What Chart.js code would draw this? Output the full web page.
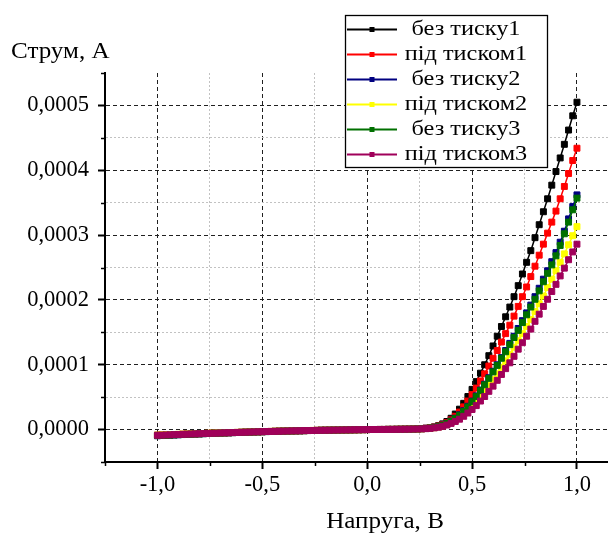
<!DOCTYPE html>
<html><head><meta charset="utf-8">
<script src="https://cdn.jsdelivr.net/npm/chart.js@4"></script>
<style>html,body{margin:0;padding:0;background:#fff;overflow:hidden}#wrap{width:608px;height:533px;position:relative}</style>
</head><body><div id="wrap"><canvas id="c" width="608" height="533"></canvas></div>
<script>
// ---- data (current in microamps, voltage in volts) ----
const voltage = [
-1.00,-0.98,-0.96,-0.94,-0.92,-0.90,-0.88,-0.86,-0.84,-0.82,
-0.80,-0.78,-0.76,-0.74,-0.72,-0.70,-0.68,-0.66,-0.64,-0.62,
-0.60,-0.58,-0.56,-0.54,-0.52,-0.50,-0.48,-0.46,-0.44,-0.42,
-0.40,-0.38,-0.36,-0.34,-0.32,-0.30,-0.28,-0.26,-0.24,-0.22,
-0.20,-0.18,-0.16,-0.14,-0.12,-0.10,-0.08,-0.06,-0.04,-0.02,
0.00,
0.02,0.04,0.06,0.08,0.10,0.12,0.14,0.16,0.18,0.20,
0.22,0.24,0.26,0.28,0.30,0.32,0.34,0.36,0.38,0.40,
0.42,0.44,0.46,0.48,0.50,0.52,0.54,0.56,0.58,0.60,
0.62,0.64,0.66,0.68,0.70,0.72,0.74,0.76,0.78,0.80,
0.82,0.84,0.86,0.88,0.90,0.92,0.94,0.96,0.98,1.00];

const bezTysku1 = [
-8.8,-8.5,-8.3,-8.0,-7.8,-7.5,-7.3,-7.0,-6.8,-6.6,
-6.3,-6.1,-5.9,-5.6,-5.4,-5.2,-5.0,-4.8,-4.6,-4.4,
-4.2,-4.0,-3.8,-3.6,-3.4,-3.2,-3.0,-2.9,-2.7,-2.5,
-2.4,-2.2,-2.1,-1.9,-1.8,-1.6,-1.5,-1.4,-1.2,-1.1,
-1.0,-0.9,-0.8,-0.7,-0.6,-0.5,-0.4,-0.3,-0.2,-0.1,
0,
0.1,0.1,0.2,0.2,0.3,0.3,0.4,0.5,0.6,0.7,
0.9,1.2,1.6,2.2,3.0,4.2,6.0,8.8,12.5,17.5,
24,31.5,40.5,51,62,74,87,100,114,129,
144,159,174,189,205,222,240,258,276,296,
316,336,356,377,398,419,440,462,484,505];

const pidTyskom1 = [
-8.7,-8.5,-8.2,-8.0,-7.7,-7.5,-7.2,-7.0,-6.8,-6.5,
-6.3,-6.1,-5.8,-5.6,-5.4,-5.2,-5.0,-4.8,-4.6,-4.4,
-4.2,-4.0,-3.8,-3.6,-3.4,-3.2,-3.0,-2.8,-2.7,-2.5,
-2.3,-2.2,-2.0,-1.9,-1.7,-1.6,-1.5,-1.3,-1.2,-1.1,
-1.0,-0.9,-0.8,-0.7,-0.6,-0.5,-0.4,-0.3,-0.2,-0.1,
0,
0.1,0.1,0.2,0.2,0.3,0.3,0.4,0.5,0.6,0.7,
0.9,1.1,1.5,2.0,2.7,3.7,5.3,7.6,10.8,15,
20.5,27,35,44,54,64,75,86,98,110,
122,135,148,161,175,190,205,220,236,252,
269,286,303,320,337,356,375,395,415,434];

const bezTysku2 = [
-9.5,-9.2,-8.9,-8.6,-8.3,-8.0,-7.7,-7.4,-7.2,-6.9,
-6.6,-6.4,-6.1,-5.9,-5.6,-5.4,-5.2,-5.0,-4.7,-4.5,
-4.3,-4.1,-3.9,-3.7,-3.5,-3.3,-3.1,-2.9,-2.8,-2.6,
-2.4,-2.3,-2.1,-2.0,-1.8,-1.7,-1.5,-1.4,-1.3,-1.1,
-1.0,-0.9,-0.8,-0.7,-0.6,-0.5,-0.4,-0.3,-0.2,-0.1,
0,
0.1,0.1,0.2,0.2,0.3,0.3,0.4,0.5,0.6,0.7,
0.8,1.0,1.3,1.8,2.4,3.3,4.7,6.8,9.6,13.2,
17.6,22.8,29,36,44,52,61,70,80,90,
100,111,122,133,144,156,168,180,192,205,
218,232,245,259,273,289,306,325,344,362];

const pidTyskom2 = [
-8.6,-8.3,-8.1,-7.8,-7.6,-7.3,-7.1,-6.9,-6.6,-6.4,
-6.2,-6.0,-5.8,-5.5,-5.3,-5.1,-4.9,-4.7,-4.5,-4.3,
-4.1,-3.9,-3.7,-3.5,-3.3,-3.1,-3.0,-2.8,-2.6,-2.5,
-2.3,-2.1,-2.0,-1.8,-1.7,-1.6,-1.4,-1.3,-1.2,-1.1,
-1.0,-0.9,-0.8,-0.7,-0.6,-0.5,-0.4,-0.3,-0.2,-0.1,
0,
0.1,0.1,0.2,0.2,0.3,0.3,0.4,0.5,0.6,0.7,
0.8,0.9,1.2,1.6,2.1,2.9,4.0,5.8,8.2,11.2,
14.8,19,24,30,36,43,51,59,68,77,
86,96,106,116,127,137,148,159,170,182,
194,206,219,232,245,258,271,285,299,313];

const bezTysku3 = [
-9.3,-9.0,-8.8,-8.5,-8.2,-7.9,-7.6,-7.4,-7.1,-6.8,
-6.6,-6.3,-6.1,-5.8,-5.6,-5.4,-5.1,-4.9,-4.7,-4.5,
-4.3,-4.1,-3.9,-3.7,-3.5,-3.3,-3.1,-2.9,-2.7,-2.6,
-2.4,-2.2,-2.1,-1.9,-1.8,-1.7,-1.5,-1.4,-1.3,-1.1,
-1.0,-0.9,-0.8,-0.7,-0.6,-0.5,-0.4,-0.3,-0.2,-0.1,
0,
0.1,0.1,0.2,0.2,0.3,0.3,0.4,0.5,0.6,0.7,
0.8,1.0,1.3,1.7,2.3,3.2,4.5,6.5,9.2,12.7,
17,22,28,35,43,51,60,69,79,89,
99,110,120,131,142,153,165,177,189,201,
214,228,241,254,268,284,302,320,339,357];

const pidTyskom3 = [
-8.8,-8.6,-8.3,-8.1,-7.8,-7.6,-7.3,-7.1,-6.8,-6.6,
-6.4,-6.1,-5.9,-5.7,-5.5,-5.2,-5.0,-4.8,-4.6,-4.4,
-4.2,-4.0,-3.8,-3.6,-3.4,-3.2,-3.0,-2.9,-2.7,-2.5,
-2.4,-2.2,-2.0,-1.9,-1.8,-1.6,-1.5,-1.4,-1.2,-1.1,
-1.0,-0.9,-0.8,-0.7,-0.6,-0.5,-0.4,-0.3,-0.2,-0.1,
0,
0.1,0.1,0.2,0.2,0.3,0.3,0.4,0.5,0.6,0.7,
0.8,0.9,1.1,1.4,1.9,2.6,3.6,5.0,7.0,9.5,
12.5,16,20.5,25.5,31,37,44,51,59,67,
76,85,94,103,113,124,134,144,155,167,
178,190,201,213,224,237,249,262,274,286];

const seriesNames = ['без тиску1','під тиском1','без тиску2','під тиском2','без тиску3','під тиском3'];
const seriesData = [bezTysku1, pidTyskom1, bezTysku2, pidTyskom2, bezTysku3, pidTyskom3];
const seriesColors = ['#000000','#ff0000','#000080','#ffff00','#007000','#a0005a'];
const seriesOrder = [5, 4, 3, 2, 1, 0]; // purple drawn on top

const xMajorTicks = [-1.0, -0.5, 0.0, 0.5, 1.0];
const xTickLabels = ['-1,0', '-0,5', '0,0', '0,5', '1,0'];
const xMinorTicks = [-1.25, -0.75, -0.25, 0.25, 0.75];
const yMajorTicks = [0, 0.0001, 0.0002, 0.0003, 0.0004, 0.0005];
const yTickLabels = ['0,0000', '0,0001', '0,0002', '0,0003', '0,0004', '0,0005'];
const yMinorTicks = [-0.00005, 0.00005, 0.00015, 0.00025, 0.00035, 0.00045, 0.00055];
const xTitle = 'Напруга, В';
const yTitle = 'Струм, А';
const X_MIN = -1.25, X_MAX = 1.148, Y_MIN = -0.00005, Y_MAX = 0.00055;
const MICRO = 1e-6;

// ---- helpers ----
const near = (a, b, eps) => Math.abs(a - b) < eps;
const majorIdx = (v, arr, eps) => arr.findIndex(m => near(v, m, eps));
const FONT = '"Liberation Serif", "Times New Roman", serif';

Chart.defaults.font.family = FONT;
Chart.defaults.font.size = 22;
Chart.defaults.color = '#000';

function wideText(ctx, text, x, y, sx) {
  ctx.save(); ctx.translate(x, y); ctx.scale(sx, 1); ctx.fillText(text, 0, 0); ctx.restore();
}

const decor = {
  id: 'decor',
  afterDraw(chart) {
    const ctx = chart.ctx, a = chart.chartArea;
    const xs = chart.scales.x, ys = chart.scales.y;
    ctx.save();
    // minor ticks (short)
    ctx.strokeStyle = '#000'; ctx.lineWidth = 1.5; ctx.setLineDash([]);
    xMinorTicks.forEach(v => { const px = Math.round(xs.getPixelForValue(v)) + 0.5; ctx.beginPath(); ctx.moveTo(px, a.bottom); ctx.lineTo(px, a.bottom + 4); ctx.stroke(); });
    yMinorTicks.forEach(v => { const py = Math.round(ys.getPixelForValue(v)) + 0.5; ctx.beginPath(); ctx.moveTo(a.left, py); ctx.lineTo(a.left - 4, py); ctx.stroke(); });
    // axis titles
    ctx.fillStyle = '#000';
    ctx.font = '23px ' + FONT;
    ctx.textAlign = 'left'; ctx.textBaseline = 'alphabetic';
    wideText(ctx, yTitle, 11, 58, 1.09);
    ctx.textAlign = 'center';
    wideText(ctx, xTitle, 385, 528, 1.09);
    // legend
    const bx = 345.5, by = 15.5, bw = 202, bh = 152;
    ctx.fillStyle = '#fff'; ctx.fillRect(bx, by, bw, bh);
    ctx.strokeStyle = '#000'; ctx.lineWidth = 1.3; ctx.strokeRect(bx, by, bw, bh);
    ctx.font = '21.5px ' + FONT;
    ctx.textAlign = 'center'; ctx.textBaseline = 'alphabetic';
    chart.data.datasets.forEach((ds, i) => {
      const base = 34.5 + i * 25;
      const cy = base - 5;
      ctx.strokeStyle = ds.borderColor; ctx.lineWidth = 2;
      ctx.beginPath(); ctx.moveTo(347, cy); ctx.lineTo(397, cy); ctx.stroke();
      ctx.fillStyle = ds.borderColor; ctx.fillRect(369.5, cy - 2.5, 5, 5);
      ctx.fillStyle = '#000';
      wideText(ctx, ds.label, 466, base, 1.13);
    });
    ctx.restore();
  }
};

const datasets = seriesData.map((arr, k) => ({
  label: seriesNames[k],
  data: voltage.map((v, i) => ({ x: v, y: arr[i] * MICRO })),
  borderColor: seriesColors[k],
  backgroundColor: seriesColors[k],
  pointBackgroundColor: seriesColors[k],
  pointBorderColor: seriesColors[k],
  borderWidth: 1.5,
  pointStyle: 'rect',
  pointRadius: 4.2,
  pointBorderWidth: 1,
  showLine: true,
  tension: 0,
  order: seriesOrder[k]
}));

new Chart(document.getElementById('c'), {
  type: 'scatter',
  data: { datasets },
  options: {
    responsive: false,
    animation: false,
    devicePixelRatio: 1,
    layout: { autoPadding: false, padding: { top: 73, right: 0, bottom: 0, left: 0 } },
    plugins: { legend: { display: false }, tooltip: { enabled: false } },
    scales: {
      x: {
        type: 'linear', min: X_MIN, max: X_MAX,
        afterBuildTicks: s => { s.ticks = xMinorTicks.concat(xMajorTicks).sort((p, q) => p - q).map(v => ({ value: v })); },
        afterFit: s => { s.height = 71; s.paddingLeft = 0; s.paddingRight = 0; },
        ticks: {
          autoSkip: false, maxRotation: 0, padding: 3,
          font: { size: 22.5 },
          callback: v => { const j = majorIdx(v, xMajorTicks, 1e-6); return j >= 0 ? xTickLabels[j] : ''; }
        },
        grid: {
          lineWidth: 1,
          color: c => { const v = c.tick ? c.tick.value : null; if (v === null || near(v, X_MIN, 1e-6)) return 'rgba(0,0,0,0)'; return majorIdx(v, xMajorTicks, 1e-6) >= 0 ? '#202020' : '#c2c2c2'; },
          tickLength: 7, tickWidth: 2,
          tickColor: c => (c.tick && majorIdx(c.tick.value, xMajorTicks, 1e-6) >= 0) ? '#000' : 'rgba(0,0,0,0)'
        },
        border: {
          color: '#000', width: 2,
          dash: c => (c.tick ? (majorIdx(c.tick.value, xMajorTicks, 1e-6) >= 0 ? [4, 3] : [2, 2]) : [])
        }
      },
      y: {
        type: 'linear', min: Y_MIN, max: Y_MAX,
        afterBuildTicks: s => { s.ticks = yMinorTicks.concat(yMajorTicks).sort((p, q) => p - q).map(v => ({ value: v })); },
        afterFit: s => { s.width = 105; s.paddingTop = 0; s.paddingBottom = 0; },
        ticks: {
          autoSkip: false, padding: 9,
          font: { size: 22.5 },
          callback: v => { const j = majorIdx(v, yMajorTicks, 1e-9); return j >= 0 ? yTickLabels[j] : ''; }
        },
        grid: {
          lineWidth: 1,
          color: c => { const v = c.tick ? c.tick.value : null; if (v === null || near(v, Y_MIN, 1e-9) || near(v, Y_MAX, 1e-9)) return 'rgba(0,0,0,0)'; return majorIdx(v, yMajorTicks, 1e-9) >= 0 ? '#202020' : '#c2c2c2'; },
          tickLength: 7, tickWidth: 2,
          tickColor: c => (c.tick && majorIdx(c.tick.value, yMajorTicks, 1e-9) >= 0) ? '#000' : 'rgba(0,0,0,0)'
        },
        border: {
          color: '#000', width: 2,
          dash: c => (c.tick ? (majorIdx(c.tick.value, yMajorTicks, 1e-9) >= 0 ? [4, 3] : [2, 2]) : [])
        }
      }
    }
  },
  plugins: [decor]
});
</script></body></html>
